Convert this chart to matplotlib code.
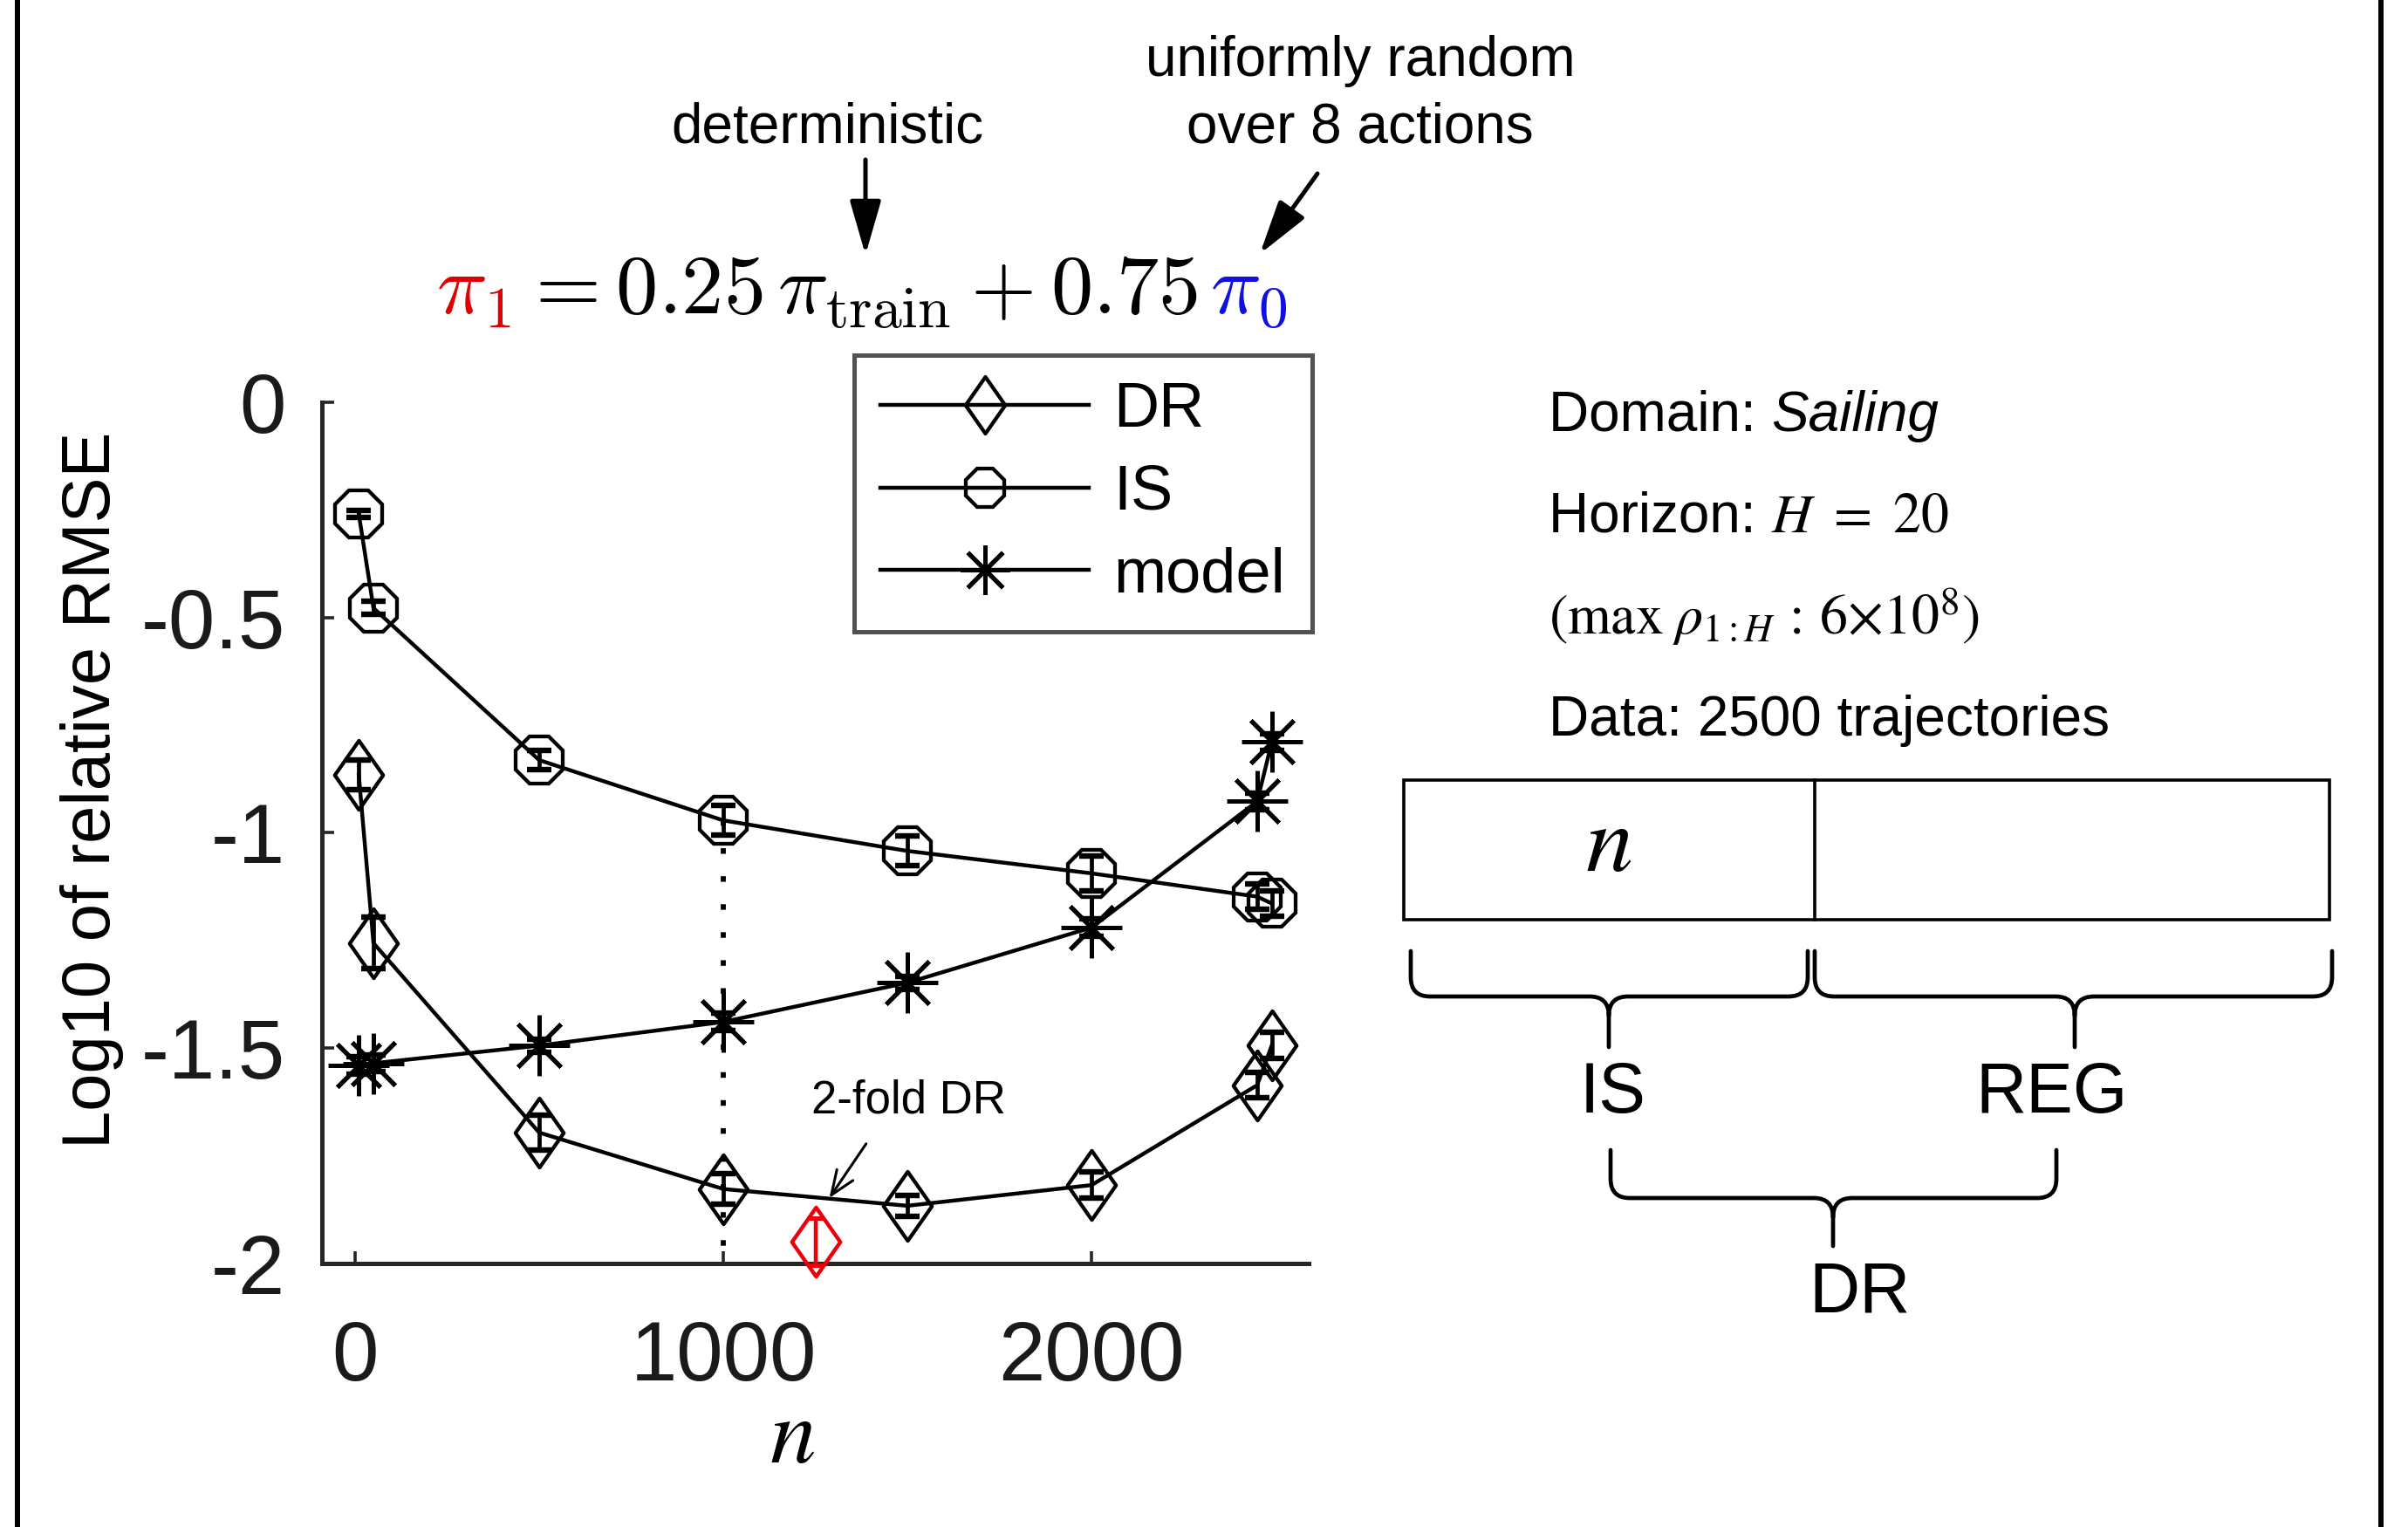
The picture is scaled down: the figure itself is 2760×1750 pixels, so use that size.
import matplotlib
matplotlib.use('Agg')
import matplotlib.pyplot as plt
from matplotlib.path import Path
from matplotlib.patches import PathPatch, Rectangle, FancyArrowPatch
from matplotlib.lines import Line2D

plt.rcParams['font.family'] = ['Liberation Sans', 'DejaVu Sans']
plt.rcParams['axes.unicode_minus'] = False

# ---------------- data ----------------
n_vals = [10, 50, 500, 1000, 1500, 2000, 2450, 2490]
dr_mean = [-0.865, -1.256, -1.696, -1.827, -1.866, -1.818, -1.586, -1.493]
dr_err = [0.035, 0.060, 0.040, 0.035, 0.024, 0.030, 0.030, 0.030]
is_mean = [-0.259, -0.478, -0.831, -0.971, -1.042, -1.094, -1.148, -1.164]
is_err = [0.008, 0.015, 0.022, 0.035, 0.035, 0.040, 0.030, 0.030]
model_mean = [-1.540, -1.535, -1.494, -1.439, -1.348, -1.220, -0.927, -0.789]
model_err = [0.020, 0.020, 0.015, 0.020, 0.015, 0.020, 0.020, 0.020]
twofold_n = [1250]
twofold_mean = [-1.949]
twofold_err = [0.055]

series_labels = ['DR', 'IS', 'model']
xticks = [0, 1000, 2000]
xtick_labels = ['0', '1000', '2000']
yticks = [0, -0.5, -1, -1.5, -2]
ytick_labels = ['0', '-0.5', '-1', '-1.5', '-2']

# ---------------- figure ----------------
W, H = 2760, 1750
DPI = 100
fig = plt.figure(figsize=(W / DPI, H / DPI), dpi=DPI)
fig.patch.set_facecolor('white')
renderer = fig.canvas.get_renderer()


def fx(px):
    return px / W


def fy(py):
    return 1 - py / H


AX_COL = '#262626'
ax = fig.add_axes([fx(369), fy(1448), fx(1500) - fx(369), fy(461) - fy(1448)])
ax.set_xlim(-90, 2590)
ax.set_ylim(-2, 0)
for s in ['top', 'right']:
    ax.spines[s].set_visible(False)
for s in ['left', 'bottom']:
    ax.spines[s].set_linewidth(3.6)
    ax.spines[s].set_color(AX_COL)
    ax.spines[s].set_capstyle('projecting')

ax.set_xticks(xticks)
ax.set_xticklabels(xtick_labels)
ax.set_yticks(yticks)
ax.set_yticklabels(ytick_labels)
ax.tick_params(axis='both', direction='in', length=10, width=2.6, color=AX_COL,
               labelsize=69, labelcolor='#1a1a1a')
ax.tick_params(axis='y', pad=30)
ax.tick_params(axis='x', pad=46)

diamond = Path([(0, 1), (0.7, 0), (0, -1), (-0.7, 0), (0, 1)],
               [Path.MOVETO, Path.LINETO, Path.LINETO, Path.LINETO, Path.CLOSEPOLY])
asterisk = (8, 2, 0)

LW = 3.2
EB = dict(fmt='none', ecolor='k', elinewidth=3.4, capsize=10, capthick=4.6, zorder=3)
ax.errorbar(n_vals, dr_mean, yerr=dr_err, **EB)
ax.errorbar(n_vals, is_mean, yerr=is_err, **EB)
ax.errorbar(n_vals, model_mean, yerr=model_err, **EB)

l_dr, = ax.plot(n_vals, dr_mean, color='k', lw=LW, marker=diamond, ms=57,
                mfc='none', mec='k', mew=3.1, zorder=4)
l_is, = ax.plot(n_vals, is_mean, color='k', lw=LW, marker='8', ms=42,
                mfc='none', mec='k', mew=3.1, zorder=4)
l_mod, = ax.plot(n_vals, model_mean, color='k', lw=LW, marker=asterisk, ms=50,
                 mfc='none', mec='k', mew=3.6, zorder=4)

# 2-fold DR point (red)
RED = '#e8000b'
ax.errorbar(twofold_n, twofold_mean, yerr=twofold_err, fmt='none', ecolor=RED,
            elinewidth=3.2, capsize=6, capthick=3.6, zorder=3, clip_on=False)
ax.plot(twofold_n, twofold_mean, ls='none', marker=diamond, ms=57, mfc='none',
        mec=RED, mew=3.2, zorder=4, clip_on=False)

# dotted guide at n = 1000
ax.plot([n_vals[3], n_vals[3]], [is_mean[3], -2], color='k', lw=4.2,
        ls=(0, (1.1, 4.4)), zorder=2, dash_capstyle='butt')

# 2-fold DR annotation
ax.text(1504, -1.623, '2-fold DR', fontsize=38, ha='center', va='center')
ax.annotate('', xy=(1288, -1.848), xytext=(1388, -1.722),
            arrowprops=dict(arrowstyle='->,head_length=1.0,head_width=0.4',
                            lw=2.2, color='k', mutation_scale=20,
                            shrinkA=0, shrinkB=0))

# legend
leg = ax.legend([l_dr, l_is, l_mod], series_labels, loc='upper left',
                bbox_to_anchor=(fx(979), fy(407)), bbox_transform=fig.transFigure,
                borderaxespad=0, frameon=True, fancybox=False, fontsize=52,
                handlelength=3.3, handletextpad=0.4, borderpad=0.42,
                labelspacing=0.38, markerscale=0.82)
leg.get_frame().set_linewidth(3.6)
leg.get_frame().set_edgecolor(AX_COL)

# axis labels
fig.text(fx(908), fy(1676), r'$n$', fontsize=76, math_fontfamily='stix',
         ha='center', va='baseline')
fig.text(fx(106), fy(905), 'Log10 of relative RMSE', fontsize=56, rotation=90,
         ha='center', va='center')


# ---------------- sequential text helper ----------------
def place_seq(x_px, base_px, pieces, fontsize, **kw):
    x = x_px
    for s, extra, gap in pieces:
        x += gap
        t = fig.text(fx(x), fy(base_px), s, fontsize=fontsize, ha='left',
                     va='baseline', **kw, **extra)
        bb = t.get_window_extent(renderer)
        x = bb.x1
    return x


# top formula
place_seq(500, 360, [
    (r'$\pi_1$', dict(color='#e00000'), 0),
    (r'$=0.25\,\pi_{\mathrm{train}}+0.75$', dict(color='k'), 12),
    (r'$\pi_0$', dict(color='#1010e0'), 14),
], 69.5, math_fontfamily='cm')

fig.text(fx(948), fy(146), 'deterministic', fontsize=46, ha='center', va='center')
fig.text(fx(1559), fy(70), 'uniformly random', fontsize=46, ha='center', va='center')
fig.text(fx(1559), fy(146), 'over 8 actions', fontsize=46, ha='center', va='center')

for (x0, y0, x1, y1) in [(992, 183, 992, 292), (1510, 199, 1444, 291)]:
    arr = FancyArrowPatch((fx(x0), fy(y0)), (fx(x1), fy(y1)),
                          transform=fig.transFigure,
                          arrowstyle='-|>,head_length=38,head_width=11',
                          mutation_scale=1, lw=3.6, color='k',
                          shrinkA=0, shrinkB=0)
    fig.add_artist(arr)

# right panel text
TX = 1775
place_seq(TX, 494, [('Domain: ', {}, 0), ('Sailing', dict(style='italic'), 0)], 46)
place_seq(TX, 610, [('Horizon: ', {}, 0), (r'$H\ =\ 20$', dict(math_fontfamily='stix'), 0)], 46)
fig.text(fx(TX), fy(727), r'$(\mathrm{max}\;\rho_{1{:}H}\,:\,6{\times}10^{8})$',
         fontsize=46, ha='left', va='baseline', math_fontfamily='stix')
fig.text(fx(TX), fy(843), 'Data: 2500 trajectories', fontsize=46, ha='left', va='baseline')

# box with split
BOX_LW = 2.6
fig.add_artist(Rectangle((fx(1609), fy(1054)), fx(2670) - fx(1609), fy(894) - fy(1054),
                         transform=fig.transFigure, fill=False, lw=BOX_LW, ec='k'))
fig.add_artist(Line2D([fx(2080), fx(2080)], [fy(894), fy(1054)],
                      transform=fig.transFigure, lw=BOX_LW, color='k'))
fig.text(fx(1844), fy(998), r'$n$', fontsize=78, math_fontfamily='stix',
         ha='center', va='baseline')


def brace(x0, x1, xm, y_top, y_mid, y_tip, r=22):
    pts = [(x0, y_top), (x0, y_mid - r), (x0, y_mid), (x0 + r, y_mid),
           (xm - r, y_mid), (xm, y_mid), (xm, y_mid + r), (xm, y_tip),
           (x1, y_top), (x1, y_mid - r), (x1, y_mid), (x1 - r, y_mid),
           (xm + r, y_mid), (xm, y_mid), (xm, y_mid + r)]
    codes = [Path.MOVETO, Path.LINETO, Path.CURVE3, Path.CURVE3,
             Path.LINETO, Path.CURVE3, Path.CURVE3, Path.LINETO,
             Path.MOVETO, Path.LINETO, Path.CURVE3, Path.CURVE3,
             Path.LINETO, Path.CURVE3, Path.CURVE3]
    verts = [(fx(a), fy(b)) for a, b in pts]
    fig.add_artist(PathPatch(Path(verts, codes), transform=fig.transFigure,
                             fill=False, lw=3.4, ec='k', capstyle='round',
                             joinstyle='round'))


brace(1617, 2072, 1844, 1090, 1142, 1200)
brace(2080, 2673, 2378, 1090, 1142, 1200)
brace(1846, 2357, 2101, 1318, 1373, 1428)

fig.text(fx(1849), fy(1254), 'IS', fontsize=58, ha='center', va='center')
fig.text(fx(2352), fy(1254), 'REG', fontsize=58, ha='center', va='center')
fig.text(fx(2132), fy(1482), 'DR', fontsize=58, ha='center', va='center')

# outer frame side lines
for xp in (20, 2729):
    fig.add_artist(Line2D([fx(xp), fx(xp)], [0, 1], transform=fig.transFigure,
                          lw=4.3, color='k'))

fig.savefig('out.png', dpi=DPI, facecolor='white')
